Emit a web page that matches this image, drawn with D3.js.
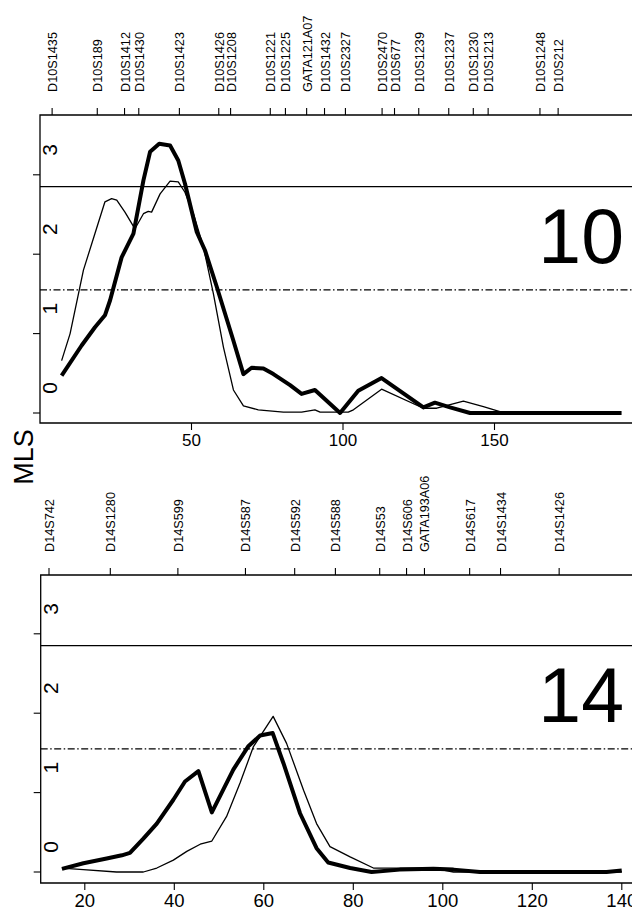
<!DOCTYPE html>
<html>
<head>
<meta charset="utf-8">
<script src="https://cdn.jsdelivr.net/npm/d3@7"></script>
<style>
	body { margin: 0; background: #fff; }
	svg { display: block; }
	text { font-family: Arial, 'Liberation Sans', sans-serif; fill: #000; }
</style>
</head>
<body>
<div id="chart"></div>
<script>
// marker maps (cM)
var chr10Markers = ['D10S1435', 'D10S189', 'D10S1412', 'D10S1430', 'D10S1423', 'D10S1426', 'D10S1208', 'D10S1221', 'D10S1225', 'GATA121A07', 'D10S1432', 'D10S2327', 'D10S2470', 'D10S677', 'D10S1239', 'D10S1237', 'D10S1230', 'D10S1213', 'D10S1248', 'D10S212'];
var chr10MarkerPos = [4.0, 18.9, 27.9, 32.6, 46.0, 59.0, 62.9, 76.0, 81.0, 88.0, 93.9, 100.8, 112.9, 117.0, 125.0, 134.9, 143.0, 147.9, 165.0, 171.0];
var chr14Markers = ['D14S742', 'D14S1280', 'D14S599', 'D14S587', 'D14S592', 'D14S588', 'D14S53', 'D14S606', 'GATA193A06', 'D14S617', 'D14S1434', 'D14S1426'];
var chr14MarkerPos = [12.0, 25.7, 40.8, 55.9, 66.9, 76.0, 85.9, 91.9, 95.9, 106.0, 112.9, 126.0];

// MLS curves
var chr10ThickPos = [7.3, 13.9, 18.3, 21.6, 23.3, 27.1, 31.0, 34.3, 36.5, 39.5, 43.1, 45.8, 48.0, 51.9, 54.6, 58.5, 64.0, 67.3, 70.0, 73.9, 77.2, 82.7, 86.5, 90.9, 99.2, 105.2, 112.9, 126.7, 130.5, 135.5, 142.1, 192.1];
var chr10ThickMls = [0.47, 0.85, 1.08, 1.23, 1.42, 1.96, 2.26, 2.93, 3.29, 3.39, 3.37, 3.18, 2.89, 2.28, 2.05, 1.59, 0.91, 0.49, 0.57, 0.56, 0.49, 0.35, 0.24, 0.29, 0.0, 0.28, 0.44, 0.07, 0.13, 0.07, 0.0, 0.0];
var chr10ThinPos = [7.3, 10.1, 14.5, 18.3, 21.6, 23.8, 25.5, 28.2, 31.5, 34.3, 35.9, 37.0, 39.8, 43.1, 45.8, 48.0, 50.8, 54.1, 57.4, 60.7, 64.0, 67.3, 72.2, 80.5, 86.5, 90.9, 92.6, 101.9, 103.6, 112.9, 126.7, 131.1, 134.9, 139.9, 146.5, 152.5];
var chr10ThinMls = [0.66, 1.0, 1.8, 2.26, 2.66, 2.70, 2.68, 2.53, 2.32, 2.51, 2.54, 2.53, 2.76, 2.92, 2.91, 2.78, 2.51, 2.09, 1.50, 0.83, 0.29, 0.09, 0.04, 0.01, 0.01, 0.04, 0.01, 0.01, 0.04, 0.30, 0.06, 0.06, 0.10, 0.15, 0.08, 0.01];
var chr14ThickPos = [15.0, 19.8, 25.0, 28.4, 30.2, 33.2, 36.2, 39.9, 42.5, 45.5, 48.5, 53.3, 56.6, 59.3, 62.1, 64.5, 68.2, 71.9, 74.5, 79.4, 84.2, 90.5, 98.0, 102.5, 108.4, 120.3, 136.7, 140.1];
var chr14ThickMls = [0.04, 0.11, 0.17, 0.21, 0.24, 0.42, 0.61, 0.91, 1.14, 1.27, 0.75, 1.29, 1.58, 1.72, 1.75, 1.37, 0.74, 0.30, 0.12, 0.05, 0.0, 0.03, 0.04, 0.03, 0.0, 0.0, 0.0, 0.02];
var chr14ThinPos = [15.0, 19.8, 27.2, 33.2, 36.2, 39.9, 42.9, 45.9, 48.5, 51.8, 54.8, 57.8, 62.2, 65.2, 69.0, 71.9, 74.9, 79.4, 84.6, 90.5, 98.0, 102.5, 108.4, 140.1];
var chr14ThinMls = [0.05, 0.03, 0.0, 0.0, 0.05, 0.15, 0.26, 0.35, 0.39, 0.70, 1.12, 1.58, 1.96, 1.62, 1.03, 0.61, 0.32, 0.19, 0.05, 0.05, 0.05, 0.0, 0.0, 0.0];

var yTicks = [0, 1, 2, 3];
var chr10XTicks = [50, 100, 150];
var chr14XTicks = [20, 40, 60, 80, 100, 120, 140];
var thresholds = [2.85, 1.55];

var w = 632;
var h = 911;
var svg = d3.select('#chart').append('svg').attr('width', w).attr('height', h);

function zip(xs, ys) {
	return xs.map(function(x, i) {
		return { pos: x, mls: ys[i] };
	});
}

function drawPanel(p) {
	var g = svg.append('g');
	var x = d3.scaleLinear().domain(p.xDomain).range(p.xRange);
	var y = d3.scaleLinear().domain([0, 3]).range([p.zeroY, p.zeroY - 3 * 79.4]);

	// box (right side runs off the page)
	g.append('path')
		.attr('d', 'M' + (w + 10) + ',' + p.top + 'H' + p.left + 'V' + p.bottom + 'H' + (w + 10))
		.attr('fill', 'none')
		.attr('stroke', '#000')
		.attr('stroke-width', 1.3);

	// marker ticks + names on top
	var mk = g.append('g').attr('transform', 'translate(0,' + p.top + ')');
	mk.call(d3.axisTop(x).tickValues(p.markerPos).tickSize(7).tickFormat(''))
		.call(function(a) { a.select('.domain').remove(); })
		.selectAll('line').attr('stroke-width', 1.1);
	g.selectAll('.marker')
		.data(p.markers)
		.enter()
		.append('text')
		.attr('transform', function(d, i) {
			return 'translate(' + (x(p.markerPos[i]) + 5.5) + ',' + (p.top - 23) + ') rotate(-90)';
		})
		.attr('font-size', '12.7px')
		.text(function(d) { return d; });

	// bottom cM axis
	var xa = g.append('g').attr('transform', 'translate(0,' + p.bottom + ')');
	xa.call(d3.axisBottom(x).tickValues(p.xTicks).tickSize(7).tickPadding(4).tickFormat(d3.format('d')));
	xa.select('.domain').remove();
	xa.selectAll('line').attr('stroke-width', 1.1);
	xa.selectAll('text').attr('font-size', p.xFont).attr('font-family', 'Arial, sans-serif').attr('fill', '#000');

	// left MLS axis, labels sit shifted above their ticks as in the scan
	g.selectAll('.ytick')
		.data(yTicks)
		.enter()
		.append('line')
		.attr('x1', p.left - 7)
		.attr('x2', p.left)
		.attr('y1', function(d) { return y(d); })
		.attr('y2', function(d) { return y(d); })
		.attr('stroke', '#000')
		.attr('stroke-width', 1.1);
	g.selectAll('.ylab')
		.data(yTicks)
		.enter()
		.append('text')
		.attr('transform', function(d) {
			return 'translate(' + (p.left + 17) + ',' + (y(d) - 25) + ') rotate(-90)';
		})
		.attr('text-anchor', 'middle')
		.attr('font-size', '21px')
		.text(function(d) { return d; });

	// significance thresholds
	g.selectAll('.thr')
		.data(thresholds)
		.enter()
		.append('line')
		.attr('x1', p.left)
		.attr('x2', w + 10)
		.attr('y1', function(d) { return y(d); })
		.attr('y2', function(d) { return y(d); })
		.attr('stroke', '#000')
		.attr('stroke-width', 1.2)
		.attr('stroke-dasharray', function(d, i) { return i === 0 ? null : '7,2.5,1.5,2.5'; });

	var line = d3.line()
		.x(function(d) { return x(d.pos); })
		.y(function(d) { return y(d.mls); });

	g.append('path')
		.datum(p.thin)
		.attr('d', line)
		.attr('fill', 'none')
		.attr('stroke', '#000')
		.attr('stroke-width', 1.3)
		.attr('stroke-linejoin', 'round');
	g.append('path')
		.datum(p.thick)
		.attr('d', line)
		.attr('fill', 'none')
		.attr('stroke', '#000')
		.attr('stroke-width', 4)
		.attr('stroke-linejoin', 'round');

	// chromosome number
	g.append('text')
		.attr('x', 624)
		.attr('y', p.numY)
		.attr('text-anchor', 'end')
		.attr('font-size', '77px')
		.text(p.chrom);
}

drawPanel({
	chrom: '10',
	xDomain: [0, 200],
	xRange: [39.5, 39.5 + 200 * 3.03],
	left: 40,
	top: 115,
	bottom: 423,
	zeroY: 413,
	numY: 263,
	xTicks: chr10XTicks,
	xFont: '17px',
	markers: chr10Markers,
	markerPos: chr10MarkerPos,
	thick: zip(chr10ThickPos, chr10ThickMls),
	thin: zip(chr10ThinPos, chr10ThinMls)
});

drawPanel({
	chrom: '14',
	xDomain: [0, 140],
	xRange: [-5.2, -5.2 + 140 * 4.475],
	left: 40.7,
	top: 575,
	bottom: 883,
	zeroY: 872,
	numY: 722,
	xTicks: chr14XTicks,
	xFont: '18.5px',
	markers: chr14Markers,
	markerPos: chr14MarkerPos,
	thick: zip(chr14ThickPos, chr14ThickMls),
	thin: zip(chr14ThinPos, chr14ThinMls)
});

// shared y title
svg.append('text')
	.attr('transform', 'translate(33,457) rotate(-90)')
	.attr('text-anchor', 'middle')
	.attr('font-size', '27px')
	.text('MLS');
</script>
</body>
</html>
